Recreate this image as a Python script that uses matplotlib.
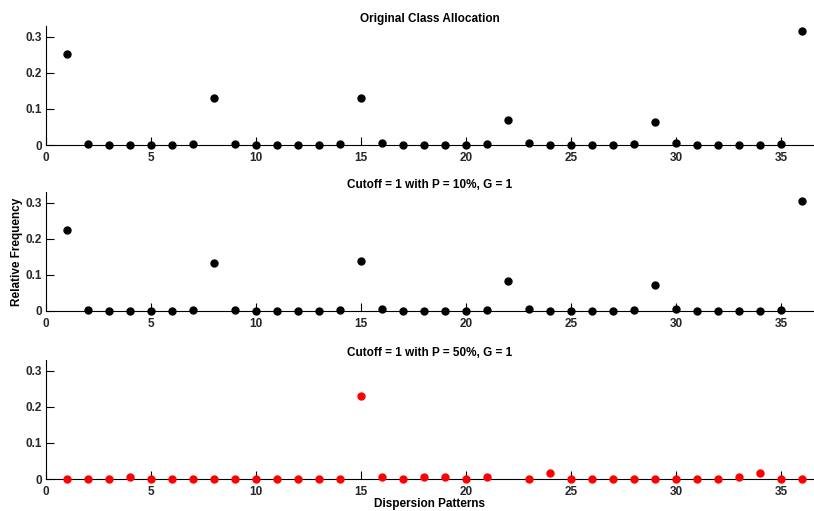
import numpy as np
import matplotlib
matplotlib.use("Agg")
import matplotlib.pyplot as plt

plt.rcParams['font.family'] = ['Liberation Sans', 'DejaVu Sans']
plt.rcParams['font.weight'] = 'bold'

patterns = np.arange(1, 37)

# relative frequency of each dispersion pattern
original = [0.253, 0.003, 0.0, 0.0, 0.0, 0.0, 0.003, 0.131, 0.003, 0.0,
            0.0, 0.0, 0.0, 0.003, 0.131, 0.005, 0.0, 0.0, 0.0, 0.0,
            0.003, 0.070, 0.005, 0.0, 0.001, 0.0, 0.0, 0.003, 0.064, 0.005,
            0.0, 0.0, 0.0, 0.0, 0.003, 0.317]
cutoff_p10 = [0.224, 0.003, 0.0, 0.0, 0.0, 0.0, 0.003, 0.132, 0.003, 0.0,
              0.0, 0.0, 0.0, 0.003, 0.138, 0.006, 0.0, 0.0, 0.0, 0.0,
              0.003, 0.082, 0.006, 0.0, 0.0, 0.0, 0.0, 0.003, 0.072, 0.006,
              0.0, 0.0, 0.0, 0.0, 0.003, 0.305]
cutoff_p50 = [0.0, 0.0, 0.0, 0.005, 0.0, 0.0, 0.0, 0.0, 0.0, 0.0,
              0.0, 0.0, 0.0, 0.0, 0.229, 0.005, 0.0, 0.005, 0.005, 0.0,
              0.005, np.nan, 0.0, 0.016, 0.0, 0.0, 0.0, 0.0, 0.0, 0.0,
              0.0, 0.0, 0.005, 0.016, 0.0, 0.0]

panels = [
    ("Original Class Allocation", original, 'black'),
    ("Cutoff = 1 with P = 10%, G = 1", cutoff_p10, 'black'),
    ("Cutoff = 1 with P = 50%, G = 1", cutoff_p50, 'red'),
]

fig = plt.figure(figsize=(8.14, 5.11), dpi=100)
bottoms = [0.7162, 0.3914, 0.0626]
height = 0.233
axes = []
for (title, vals, col), b in zip(panels, bottoms):
    ax = fig.add_axes([0.0565, b, 0.9435, height])
    ax.plot(patterns, vals, 'o', color=col, markersize=5, clip_on=False, zorder=3)
    ax.set_xlim(0, 36.57)
    ax.set_ylim(0, 0.33)
    ax.set_xticks([0, 5, 10, 15, 20, 25, 30, 35])
    ax.set_yticks([0, 0.1, 0.2, 0.3])
    ax.set_yticklabels(['0', '0.1', '0.2', '0.3'])
    ax.spines['top'].set_visible(False)
    ax.spines['right'].set_visible(False)
    ax.tick_params(direction='in', length=6, width=0.8, labelsize=8.5,
                   labelcolor='#262626')
    ax.tick_params(axis='x', pad=5)
    ax.tick_params(axis='y', pad=3)
    ax.set_title(title, fontsize=8.5, fontweight='bold', pad=3)
    axes.append(ax)

axes[1].set_ylabel("Relative Frequency", fontsize=8.5, fontweight='bold', labelpad=2)
axes[2].set_xlabel("Dispersion Patterns", fontsize=8.5, fontweight='bold', labelpad=0)

fig.savefig("out.png", dpi=100)
